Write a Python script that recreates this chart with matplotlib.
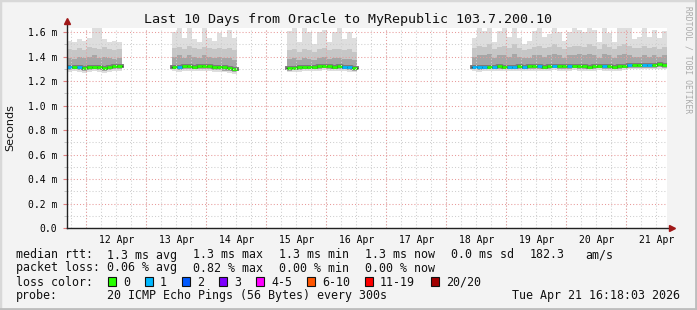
import datetime as dt
import matplotlib
matplotlib.use("Agg")
import matplotlib.pyplot as plt
import matplotlib.dates as mdates
from matplotlib.patches import Rectangle
import numpy as np

W, H = 697, 310

title = "Last 10 Days from Oracle to MyRepublic 103.7.200.10"
end_time = dt.datetime(2026, 4, 21, 16, 18, 3)
start_time = end_time - dt.timedelta(days=10)

# data comes in 2 hour bins, four runs separated by gaps
bin_hours = 2
seg_start_hours = [0, 42, 88, 162]

# round trip times in ms
rtt_median = [
    [1.315, 1.318, 1.312, 1.308, 1.315, 1.318, 1.312, 1.310, 1.318, 1.320, 1.320],
    [1.318, 1.315, 1.320, 1.322, 1.318, 1.320, 1.325, 1.320, 1.318, 1.315, 1.312, 1.305, 1.298],
    [1.305, 1.308, 1.312, 1.315, 1.315, 1.318, 1.322, 1.325, 1.320, 1.318, 1.320, 1.315, 1.312, 1.305],
    [1.315, 1.312, 1.315, 1.318, 1.315, 1.320, 1.318, 1.315, 1.318, 1.322, 1.318, 1.320, 1.322,
     1.320, 1.318, 1.322, 1.325, 1.322, 1.320, 1.322, 1.325, 1.322, 1.320, 1.318, 1.322, 1.325,
     1.322, 1.320, 1.318, 1.322, 1.325, 1.328, 1.330, 1.328, 1.330, 1.332, 1.328, 1.335, 1.330],
]
rtt_max = [
    [1.53, 1.52, 1.54, 1.53, 1.55, 1.63, 1.63, 1.54, 1.52, 1.53, 1.52],
    [1.60, 1.63, 1.55, 1.63, 1.54, 1.52, 1.63, 1.55, 1.53, 1.59, 1.56, 1.62, 1.55],
    [1.61, 1.63, 1.52, 1.63, 1.60, 1.50, 1.60, 1.62, 1.52, 1.60, 1.63, 1.54, 1.60, 1.55],
    [1.55, 1.63, 1.61, 1.63, 1.52, 1.61, 1.63, 1.56, 1.63, 1.55, 1.50, 1.53, 1.61,
     1.63, 1.56, 1.58, 1.63, 1.60, 1.53, 1.60, 1.63, 1.62, 1.60, 1.63, 1.62, 1.52,
     1.63, 1.59, 1.52, 1.63, 1.63, 1.63, 1.54, 1.56, 1.63, 1.56, 1.62, 1.55, 1.61],
]
rtt_p90 = [
    [1.46, 1.45, 1.47, 1.45, 1.48, 1.47, 1.46, 1.48, 1.46, 1.45, 1.46],
    [1.47, 1.48, 1.46, 1.49, 1.47, 1.46, 1.48, 1.47, 1.46, 1.47, 1.46, 1.47, 1.45],
    [1.45, 1.46, 1.44, 1.46, 1.45, 1.44, 1.46, 1.47, 1.45, 1.46, 1.46, 1.45, 1.46, 1.44],
    [1.47, 1.49, 1.48, 1.50, 1.46, 1.48, 1.49, 1.47, 1.50, 1.47, 1.45, 1.46, 1.48,
     1.49, 1.47, 1.48, 1.50, 1.48, 1.46, 1.48, 1.49, 1.49, 1.48, 1.50, 1.49, 1.46,
     1.50, 1.48, 1.46, 1.49, 1.50, 1.49, 1.47, 1.47, 1.49, 1.47, 1.48, 1.46, 1.48],
]
rtt_p75 = [
    [1.39, 1.38, 1.40, 1.39, 1.40, 1.41, 1.39, 1.40, 1.39, 1.38, 1.39],
    [1.40, 1.41, 1.39, 1.41, 1.40, 1.39, 1.41, 1.40, 1.39, 1.40, 1.39, 1.39, 1.37],
    [1.38, 1.39, 1.37, 1.39, 1.38, 1.37, 1.39, 1.40, 1.38, 1.39, 1.39, 1.38, 1.38, 1.37],
    [1.40, 1.41, 1.41, 1.42, 1.39, 1.41, 1.41, 1.40, 1.42, 1.40, 1.39, 1.39, 1.41,
     1.41, 1.40, 1.41, 1.42, 1.41, 1.39, 1.41, 1.41, 1.42, 1.41, 1.42, 1.41, 1.39,
     1.42, 1.41, 1.39, 1.41, 1.42, 1.41, 1.40, 1.40, 1.41, 1.40, 1.41, 1.40, 1.41],
]
rtt_p25 = [
    [1.290, 1.295, 1.290, 1.285, 1.290, 1.295, 1.290, 1.285, 1.290, 1.295, 1.295],
    [1.295, 1.290, 1.295, 1.300, 1.295, 1.295, 1.300, 1.295, 1.290, 1.290, 1.285, 1.280, 1.275],
    [1.285, 1.290, 1.290, 1.295, 1.295, 1.300, 1.300, 1.305, 1.300, 1.300, 1.300, 1.295, 1.290, 1.285],
    [1.295, 1.290, 1.295, 1.300, 1.295, 1.300, 1.300, 1.295, 1.300, 1.300, 1.295, 1.300, 1.300,
     1.300, 1.295, 1.300, 1.305, 1.300, 1.300, 1.300, 1.305, 1.300, 1.300, 1.295, 1.300, 1.305,
     1.300, 1.300, 1.295, 1.300, 1.305, 1.310, 1.310, 1.310, 1.310, 1.310, 1.310, 1.315, 1.310],
]
rtt_min = [
    [1.275, 1.280, 1.270, 1.265, 1.275, 1.280, 1.270, 1.265, 1.275, 1.280, 1.280],
    [1.280, 1.270, 1.280, 1.285, 1.280, 1.280, 1.285, 1.280, 1.275, 1.275, 1.270, 1.265, 1.260],
    [1.270, 1.275, 1.275, 1.280, 1.280, 1.285, 1.285, 1.290, 1.285, 1.285, 1.285, 1.280, 1.275, 1.270],
    [1.280, 1.275, 1.280, 1.285, 1.280, 1.285, 1.285, 1.280, 1.285, 1.285, 1.280, 1.285, 1.285,
     1.285, 1.280, 1.285, 1.290, 1.285, 1.285, 1.285, 1.290, 1.285, 1.285, 1.280, 1.285, 1.290,
     1.285, 1.285, 1.280, 1.285, 1.290, 1.295, 1.295, 1.295, 1.295, 1.295, 1.295, 1.300, 1.295],
]
# index into loss_labels per bin
loss_level = [
    [1, 0, 1, 0, 0, 0, 0, 0, 0, 0, 0],
    [0, 1, 0, 0, 0, 0, 0, 0, 0, 0, 0, 0, 0],
    [0, 0, 0, 0, 0, 0, 0, 0, 0, 0, 0, 1, 1, 0],
    [1, 1, 1, 0, 1, 0, 0, 1, 1, 0, 1, 0, 0, 1, 0, 0, 1, 0, 0, 1,
     0, 0, 0, 0, 0, 0, 1, 0, 0, 0, 0, 1, 0, 0, 1, 1, 0, 0, 0],
]

loss_labels = ["0", "1", "2", "3", "4-5", "6-10", "11-19", "20/20"]
loss_colors = ["#26ff00", "#00b8ff", "#0059ff", "#7e00ff", "#ff00ff", "#ff5500", "#ff0000", "#a10000"]

y_ticks = [0.0, 0.2, 0.4, 0.6, 0.8, 1.0, 1.2, 1.4, 1.6]
y_tick_labels = ["0.0", "0.2 m", "0.4 m", "0.6 m", "0.8 m", "1.0 m", "1.2 m", "1.4 m", "1.6 m"]
y_top = 1.633

stats_rows = [
    ("median rtt:", ["1.3 ms avg", "1.3 ms max", "1.3 ms min", "1.3 ms now", "0.0 ms sd", "182.3", "am/s"]),
    ("packet loss:", ["0.06 % avg", "0.82 % max", "0.00 % min", "0.00 % now"]),
]
probe_text = "20 ICMP Echo Pings (56 Bytes) every 300s"
stamp_text = "Tue Apr 21 16:18:03 2026"

MONO = "DejaVu Sans Mono"
BG = "#f3f3f3"
FS = 8.4


def fx(x):
    return x / W


def fy(y):
    return 1 - y / H


fig = plt.figure(figsize=(W / 100, H / 100), dpi=100, facecolor=BG)
ax = fig.add_axes([fx(67), fy(228), 600 / W, 200 / H])
ax.set_facecolor("white")

for s in range(len(seg_start_hours)):
    n = len(rtt_median[s])
    t0 = start_time + dt.timedelta(hours=seg_start_hours[s])
    edges = mdates.date2num([t0 + dt.timedelta(hours=bin_hours * i) for i in range(n + 1)])

    def ext(v):
        return list(v) + [v[-1]]

    ax.fill_between(edges, ext(rtt_min[s]), ext(rtt_max[s]), step="post", color="#dedede", lw=0)
    ax.fill_between(edges, ext(rtt_p25[s]), ext(rtt_p90[s]), step="post", color="#c6c6c6", lw=0)
    ax.fill_between(edges, ext(rtt_p25[s]), ext(rtt_p75[s]), step="post", color="#a6a6a6", lw=0)
    ax.step(edges, ext(rtt_median[s]), where="post", color="#7a7a7a", lw=2.8)
    ax.step(edges, ext(rtt_median[s]), where="post", color="#111111", lw=1.0)
    ax.hlines(rtt_median[s], edges[:-1], edges[1:],
              colors=[loss_colors[k] for k in loss_level[s]], lw=2.0)

ax.set_xlim(mdates.date2num(start_time), mdates.date2num(end_time))
ax.set_ylim(0, y_top)

# y grid
ax.set_yticks(y_ticks)
ax.set_yticklabels(y_tick_labels, family=MONO, fontsize=7)
ax.set_yticks(np.arange(0.1, 1.65, 0.2), minor=True)
ax.tick_params(axis="y", which="major", length=3, color="#e08080", pad=4)
ax.tick_params(axis="y", which="minor", length=2, color="#bbbbbb")

# x: labels at noon, grey grid every 6h, red at midnight
ax.xaxis.set_major_locator(mdates.HourLocator(byhour=[12]))
ax.xaxis.set_major_formatter(mdates.DateFormatter("%d %b"))
ax.xaxis.set_minor_locator(mdates.HourLocator(byhour=[0, 6, 12, 18]))
ax.xaxis.remove_overlapping_locs = False
ax.tick_params(axis="x", which="major", length=0, pad=5)
ax.tick_params(axis="x", which="minor", length=0)
for lab in ax.get_xticklabels():
    lab.set_family(MONO)
    lab.set_fontsize(7)

dotted = (0, (1, 2))
ax.grid(False)
ax.grid(True, axis="x", which="minor", color="#cfcfcf", lw=0.75, ls=dotted)
ax.grid(True, axis="y", which="minor", color="#cfcfcf", lw=0.75, ls=dotted)
ax.grid(True, axis="y", which="major", color="#e89a9a", lw=0.75, ls=dotted)
ax.set_axisbelow(False)
for d in mdates.DayLocator().tick_values(start_time, end_time):
    ax.axvline(d, color="#e89a9a", lw=0.75, ls=dotted, zorder=2.6)

for sp in ax.spines.values():
    sp.set_visible(False)
ax.plot([0, 0], [0, 1.03], transform=ax.transAxes, color="#222222", lw=1, clip_on=False, zorder=5)
ax.plot([0, 1.007], [0, 0], transform=ax.transAxes, color="#222222", lw=1, clip_on=False, zorder=5)
ax.plot([0], [1.035], transform=ax.transAxes, marker="^", ms=4, color="#a01818", clip_on=False, zorder=6)
ax.plot([1.008], [0], transform=ax.transAxes, marker=">", ms=4, color="#a01818", clip_on=False, zorder=6)

# texts
fig.text(0.5, fy(19), title, family=MONO, fontsize=9.6, ha="center", va="center", color="#111111")
fig.text(fx(10), fy(128), "Seconds", fontsize=8, rotation=90, ha="center", va="center", color="#111111")
fig.text(fx(688), fy(60), "RRDTOOL / TOBI OETIKER", family=MONO, fontsize=5.8,
         rotation=270, ha="center", va="center", color="#aaaaaa")

col_x = [107, 193, 279, 365, 451, 530, 585]
for (head, vals), ry in zip(stats_rows, [255, 268]):
    fig.text(fx(16), fy(ry), head, family=MONO, fontsize=FS, va="center", color="#111111")
    for x, v in zip(col_x, vals):
        fig.text(fx(x), fy(ry), v, family=MONO, fontsize=FS, va="center", color="#111111")

fig.text(fx(16), fy(282), "loss color:", family=MONO, fontsize=FS, va="center", color="#111111")
box_x = [108, 145, 182, 219, 256, 307, 365, 431]
for bx, lab, c in zip(box_x, loss_labels, loss_colors):
    fig.add_artist(Rectangle((fx(bx), fy(286)), 8 / W, 9 / H, transform=fig.transFigure,
                             facecolor=c, edgecolor="#111111", lw=0.8))
    fig.text(fx(bx + 15), fy(282), lab, family=MONO, fontsize=FS, va="center", color="#111111")

fig.text(fx(16), fy(296), "probe:", family=MONO, fontsize=FS, va="center", color="#111111")
fig.text(fx(107), fy(296), probe_text, family=MONO, fontsize=FS, va="center", color="#111111")
fig.text(fx(680), fy(296), stamp_text, family=MONO, fontsize=FS, va="center", ha="right", color="#111111")

# frame
fig.add_artist(Rectangle((0, 0), 1, 1, transform=fig.transFigure, fill=False,
                         edgecolor="#d8d8d8", lw=2.5))
fig.add_artist(plt.Line2D([0, 1], [0.002, 0.002], transform=fig.transFigure, color="#bdbdbd", lw=2))
fig.add_artist(plt.Line2D([0.998, 0.998], [0, 1], transform=fig.transFigure, color="#bdbdbd", lw=2))

fig.savefig("out.png", dpi=100, facecolor=BG)
